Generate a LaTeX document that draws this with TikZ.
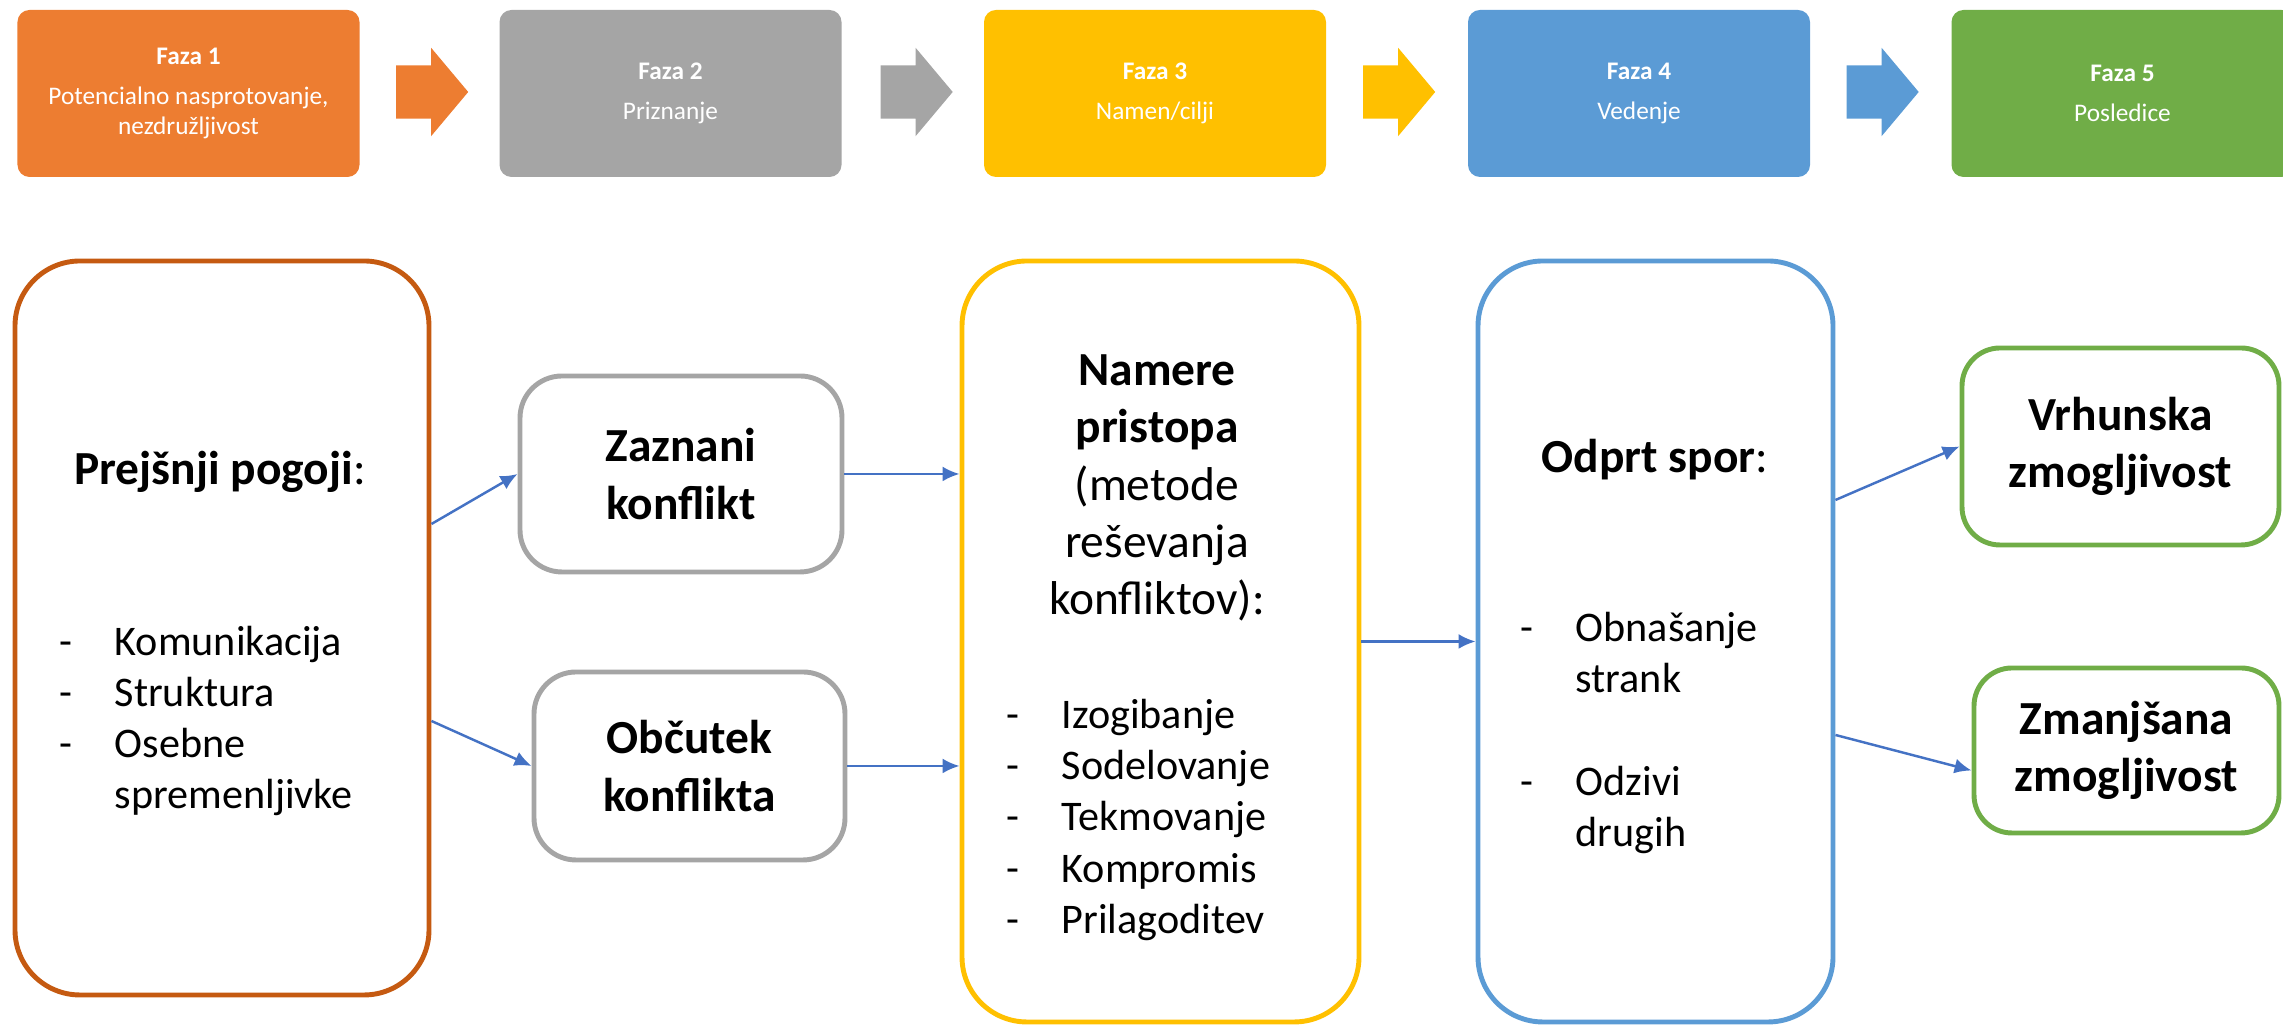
\documentclass[tikz,border=0pt]{standalone}
\usepackage{fontspec}
\setmainfont{Carlito}
\usepackage{tikz}
\usetikzlibrary{shapes,arrows,arrows.meta,positioning}

\definecolor{fazaorange}{HTML}{ED7D31}
\definecolor{fazagray}{HTML}{A5A5A5}
\definecolor{fazayellow}{HTML}{FFC000}
\definecolor{fazablue}{HTML}{5B9BD5}
\definecolor{fazagreen}{HTML}{70AD47}
\definecolor{prejorange}{HTML}{C55A11}
\definecolor{linkblue}{HTML}{4472C4}

\newcommand{\listdash}{\makebox[5.5mm][l]{-}}
\newcommand{\listgap}{\makebox[5.5mm][l]{}}

\begin{document}
\begin{tikzpicture}[
	faza/.style={rectangle, rounded corners=0.12cm, minimum width=3.42cm, minimum height=1.67cm, text=white, align=center, font=\fontsize{7.2}{8.5}\selectfont, inner sep=0pt},
	pointer/.style={single arrow, text height=0.52cm, text depth=0pt, inner sep=0pt, minimum height=0.72cm, minimum width=0.87cm, single arrow head extend=0.175cm, single arrow tip angle=100},
	stage/.style={rectangle, draw, line width=1.4pt, fill=white, align=center, inner sep=0pt},
	title/.style={align=center, font=\fontsize{13.5}{16.3}\selectfont, inner sep=0pt},
	items/.style={align=left, anchor=west, font=\fontsize{12}{14.6}\selectfont, inner sep=0pt},
	link/.style={-{Latex[length=1.7mm,width=1.5mm]}, line width=0.7pt, draw=linkblue}
]
	\useasboundingbox (0,0) rectangle (22.83,10.26);

	% faze
	\node[faza, fill=fazaorange] (f1) at (1.885,9.325) {\textbf{Faza 1}\\[3pt]Potencialno nasprotovanje,\\nezdružljivost};
	\node[faza, fill=fazagray] (f2) at (6.705,9.325) {\textbf{Faza 2}\\[3pt]Priznanje};
	\node[faza, fill=fazayellow] (f3) at (11.55,9.325) {\textbf{Faza 3}\\[3pt]Namen/cilji};
	\node[faza, fill=fazablue] (f4) at (16.39,9.325) {\textbf{Faza 4}\\[3pt]Vedenje};
	\node[faza, fill=fazagreen] (f5) at (21.225,9.325) {\textbf{Faza 5}\\[3pt]Posledice};

	\node[pointer, fill=fazaorange] (p1) at (4.21,9.34) {};
	\node[pointer, fill=fazagray] (p2) at (9.055,9.34) {};
	\node[pointer, fill=fazayellow] (p3) at (13.88,9.34) {};
	\node[pointer, fill=fazablue] (p4) at (18.715,9.34) {};

	% okvirji
	\node[stage, draw=prejorange, rounded corners=0.65cm, minimum width=4.14cm, minimum height=7.34cm] (prej) at (2.22,3.98) {};
	\node[stage, draw=fazagray, rounded corners=0.42cm, minimum width=3.22cm, minimum height=1.96cm, font=\fontsize{13.5}{16.3}\selectfont\bfseries] (zaz) at (6.81,5.52) {Zaznani\\konflikt};
	\node[stage, draw=fazagray, rounded corners=0.42cm, minimum width=3.11cm, minimum height=1.88cm, font=\fontsize{13.5}{16.3}\selectfont\bfseries] (obc) at (6.895,2.60) {Občutek\\konflikta};
	\node[stage, draw=fazayellow, rounded corners=0.65cm, minimum width=3.97cm, minimum height=7.61cm] (nam) at (11.605,3.845) {};
	\node[stage, draw=fazablue, rounded corners=0.65cm, minimum width=3.55cm, minimum height=7.61cm] (odp) at (16.555,3.845) {};
	\node[stage, draw=fazagreen, rounded corners=0.38cm, minimum width=3.17cm, minimum height=1.97cm, font=\fontsize{13.5}{16.3}\selectfont\bfseries] (vrh) at (21.205,5.795) {Vrhunska\\zmogljivost};
	\node[stage, draw=fazagreen, rounded corners=0.38cm, minimum width=3.05cm, minimum height=1.65cm, font=\fontsize{13.5}{16.3}\selectfont\bfseries] (zma) at (21.265,2.755) {Zmanjšana\\zmogljivost};

	% besedila
	\node[title] (prejT) at (2.20,5.54) {\textbf{Prejšnji pogoji}:};
	\node[items] (prejL) at (0.59,3.05) {\listdash Komunikacija\\\listdash Struktura\\\listdash Osebne\\\listgap spremenljivke};
	\node[title] (namT) at (11.57,5.38) {\textbf{Namere}\\\textbf{pristopa}\\(metode\\reševanja\\konfliktov):};
	\node[items] (namL) at (10.06,2.06) {\listdash Izogibanje\\\listdash Sodelovanje\\\listdash Tekmovanje\\\listdash Kompromis\\\listdash Prilagoditev};
	\node[title] (odpT) at (16.55,5.66) {\textbf{Odprt spor}:};
	\node[items] (odpL) at (15.20,2.93) {\listdash Obnašanje\\\listgap strank\\[14.6pt]\listdash Odzivi\\\listgap drugih};

	% povezave
	\draw[link] ([yshift=1.04cm]prej.east) -- (zaz.west);
	\draw[link] ([yshift=-0.93cm]prej.east) -- (obc.west);
	\draw[link] (zaz.east) -- (zaz.east -| nam.west);
	\draw[link] (obc.east) -- (obc.east -| nam.west);
	\draw[link] (nam.east) -- (odp.west);
	\draw[link] ([yshift=1.415cm]odp.east) -- (vrh.west);
	\draw[link] ([yshift=-0.935cm]odp.east) -- ([yshift=-0.2cm]zma.west);
\end{tikzpicture}
\end{document}
